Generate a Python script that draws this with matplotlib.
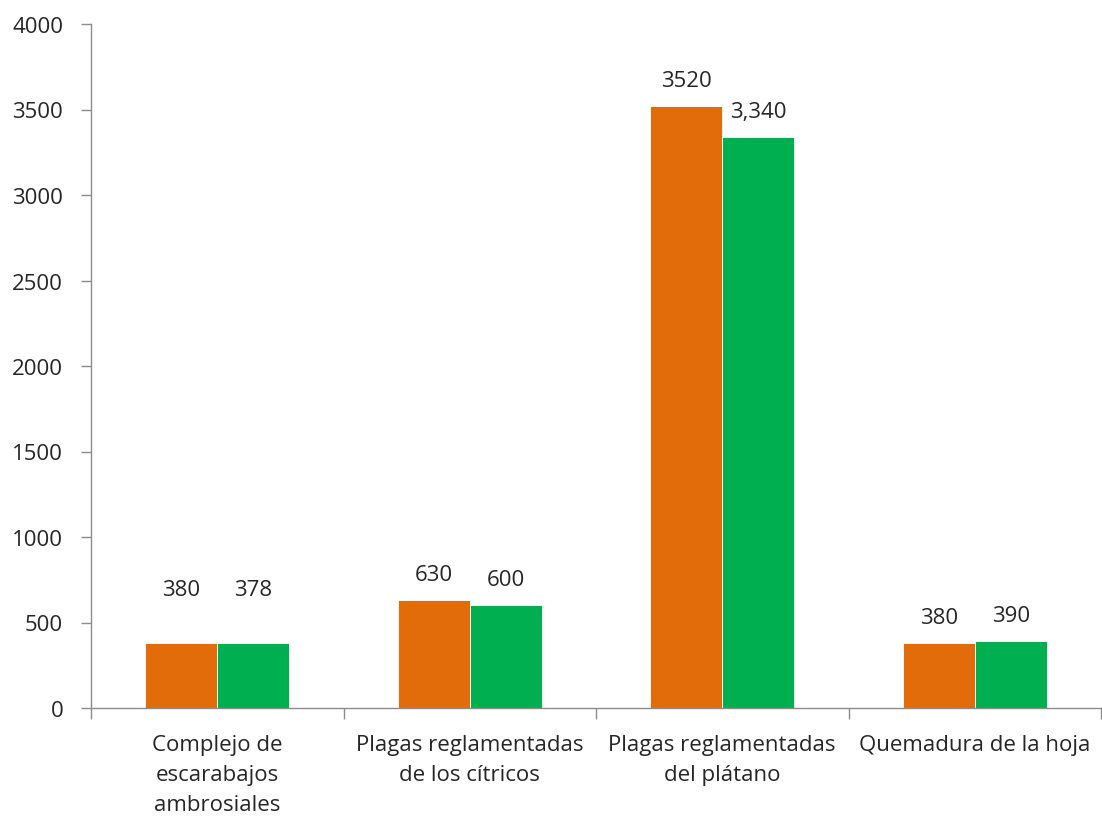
import matplotlib
matplotlib.use("Agg")
import matplotlib.pyplot as plt
import numpy as np

categories = ["Complejo de\nescarabajos\nambrosiales",
              "Plagas reglamentadas\nde los cítricos",
              "Plagas reglamentadas\ndel plátano",
              "Quemadura de la hoja"]
series_a = [380, 630, 3520, 380]
series_b = [378, 600, 3340, 390]
labels_a = ["380", "630", "3520", "380"]
labels_b = ["378", "600", "3,340", "390"]
yticks = [0, 500, 1000, 1500, 2000, 2500, 3000, 3500, 4000]

plt.rcParams['font.family'] = ['Open Sans', 'DejaVu Sans']
text_color = "#262626"
axis_color = "#8c8c8c"
orange = "#E36C0A"
green = "#00B050"
fs = 16

fig = plt.figure(figsize=(11.02, 8.2), dpi=100)
ax = fig.add_axes([91/1102, 111/820, (1101-91)/1102, (709-25)/820])

x = np.arange(len(categories))
w = 0.285
ax.bar(x - w/2, series_a, width=w, color=orange, edgecolor="white", linewidth=0.6)
ax.bar(x + w/2, series_b, width=w, color=green, edgecolor="white", linewidth=0.6)

# value labels (first group placed higher as in reference)
extra = [20, 0, 0, 0]
for i in range(len(categories)):
    ax.annotate(labels_a[i], (x[i] - w/2, series_a[i]), xytext=(0, 11 + extra[i]),
                textcoords="offset points", ha="center", va="bottom",
                fontsize=fs, color=text_color)
    ax.annotate(labels_b[i], (x[i] + w/2, series_b[i]), xytext=(0, 11 + extra[i]),
                textcoords="offset points", ha="center", va="bottom",
                fontsize=fs, color=text_color)

ax.set_xlim(-0.5, len(categories) - 0.5)
ax.set_ylim(0, 4000)
ax.set_yticks(yticks)
ax.set_yticklabels([str(v) for v in yticks], fontsize=fs, color=text_color)

ax.set_xticks(x)
ax.set_xticklabels(categories, fontsize=fs, color=text_color, linespacing=1.55)
ax.tick_params(axis="x", length=0, pad=19)
ax.set_xticks(np.arange(-0.5, len(categories)), minor=True)
ax.tick_params(axis="x", which="minor", length=8, color=axis_color, width=1)
ax.tick_params(axis="y", length=7, color=axis_color, width=1, pad=13)

for s in ["top", "right"]:
    ax.spines[s].set_visible(False)
for s in ["left", "bottom"]:
    ax.spines[s].set_color(axis_color)
    ax.spines[s].set_linewidth(1)

fig.savefig("out.png", dpi=100, facecolor="white")
